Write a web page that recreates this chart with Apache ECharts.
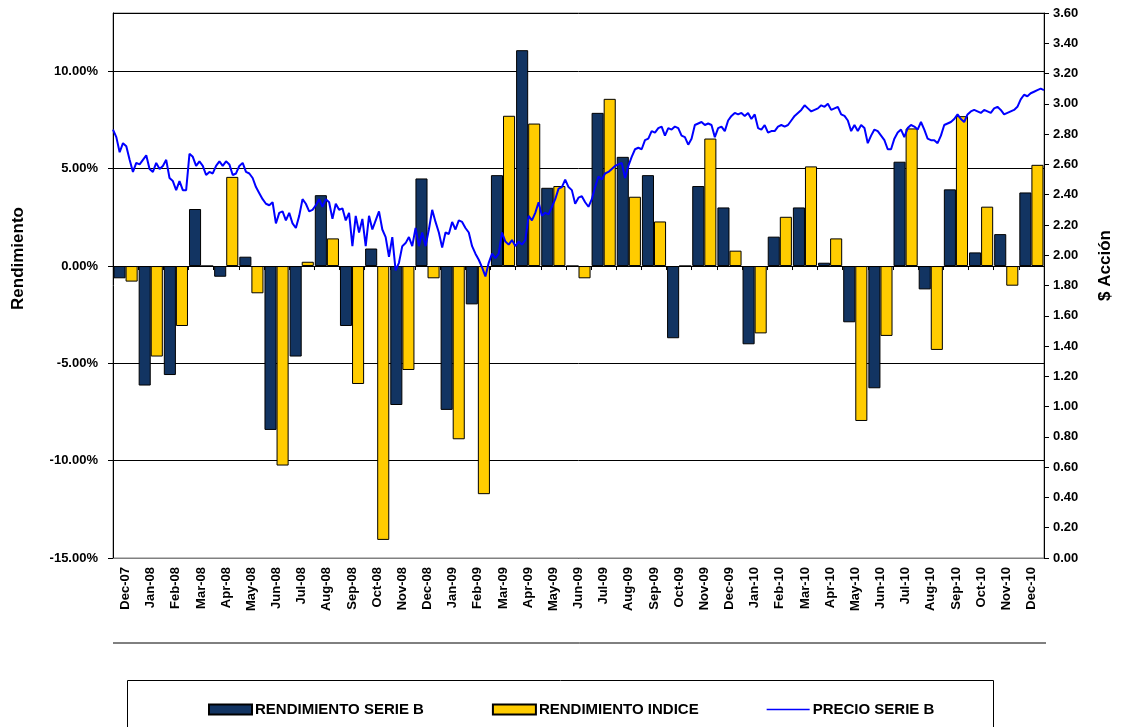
<!DOCTYPE html>
<html>
<head>
<meta charset="utf-8">
<script src="https://cdn.jsdelivr.net/npm/echarts@6/dist/echarts.min.js"></script>
<style>
  html, body { margin: 0; padding: 0; background: #fff; }
  #chart { width: 1123px; height: 727px; }
</style>
</head>
<body>
<div id="chart"></div>
<script>
const months = [
  'Dec-07', 'Jan-08', 'Feb-08', 'Mar-08', 'Apr-08', 'May-08', 'Jun-08', 'Jul-08', 'Aug-08', 'Sep-08',
  'Oct-08', 'Nov-08', 'Dec-08', 'Jan-09', 'Feb-09', 'Mar-09', 'Apr-09', 'May-09', 'Jun-09', 'Jul-09',
  'Aug-09', 'Sep-09', 'Oct-09', 'Nov-09', 'Dec-09', 'Jan-10', 'Feb-10', 'Mar-10', 'Apr-10', 'May-10',
  'Jun-10', 'Jul-10', 'Aug-10', 'Sep-10', 'Oct-10', 'Nov-10', 'Dec-10'
];

// monthly returns, in fractions
const rendSerieB = [
  -0.0063, -0.0614, -0.0560, 0.0293, -0.0055, 0.0048, -0.0842, -0.0465, 0.0364, -0.0308,
  0.0090, -0.0714, 0.0450, -0.0739, -0.0197, 0.0467, 0.1109, 0.0402, 0.0000, 0.0787,
  0.0561, 0.0467, -0.0371, 0.0411, 0.0301, -0.0402, 0.0151, 0.0301, 0.0017, -0.0289,
  -0.0628, 0.0536, -0.0120, 0.0394, 0.0070, 0.0164, 0.0378
];
const rendIndice = [
  -0.0080, -0.0465, -0.0308, 0.0000, 0.0458, -0.0140, -0.1025, 0.0022, 0.0142, -0.0606,
  -0.1407, -0.0534, -0.0063, -0.0890, -0.1172, 0.0772, 0.0732, 0.0411, -0.0063, 0.0859,
  0.0356, 0.0229, 0.0000, 0.0655, 0.0079, -0.0346, 0.0253, 0.0512, 0.0142, -0.0796,
  -0.0359, 0.0707, -0.0431, 0.0770, 0.0305, -0.0101, 0.0520
];

// share price, sampled along the period (Dec-07 .. Dec-10)
const precioSerieB = [
  2.83, 2.78, 2.68, 2.74, 2.72, 2.63, 2.55, 2.61, 2.60, 2.63, 2.66, 2.57, 2.55, 2.61, 2.57, 2.59,
  2.63, 2.51, 2.49, 2.43, 2.49, 2.43, 2.43, 2.67, 2.65, 2.59, 2.62, 2.59, 2.53, 2.55, 2.54, 2.59,
  2.62, 2.59, 2.62, 2.60, 2.53, 2.54, 2.59, 2.61, 2.55, 2.54, 2.51, 2.45, 2.41, 2.37, 2.34, 2.33,
  2.35, 2.21, 2.28, 2.29, 2.23, 2.28, 2.21, 2.18, 2.26, 2.37, 2.34, 2.29, 2.30, 2.33, 2.37, 2.32,
  2.37, 2.35, 2.24, 2.34, 2.30, 2.31, 2.23, 2.28, 2.06, 2.26, 2.15, 2.24, 2.06, 2.26, 2.17, 2.23,
  2.29, 2.17, 2.12, 1.99, 2.12, 1.90, 1.95, 2.06, 2.08, 2.12, 2.06, 2.18, 2.06, 2.15, 2.06,
  2.17, 2.30, 2.22, 2.15, 2.05, 2.15, 2.14, 2.22, 2.17, 2.23, 2.22, 2.18, 2.15, 2.06, 2.01, 1.97,
  1.92, 1.86, 1.95, 2.01, 1.98, 2.01, 2.15, 2.09, 2.07, 2.10, 2.06, 2.09, 2.07, 2.10, 2.26, 2.23,
  2.28, 2.35, 2.26, 2.28, 2.27, 2.32, 2.37, 2.44, 2.45, 2.50, 2.45, 2.43, 2.34, 2.38, 2.39, 2.35,
  2.32, 2.37, 2.45, 2.52, 2.50, 2.54, 2.55, 2.57, 2.59, 2.60, 2.61, 2.51, 2.59, 2.65, 2.70, 2.71,
  2.70, 2.76, 2.77, 2.82, 2.81, 2.84, 2.85, 2.79, 2.84, 2.83, 2.85, 2.84, 2.79, 2.78, 2.73, 2.77,
  2.86, 2.87, 2.88, 2.86,
  2.87, 2.86, 2.78, 2.84, 2.85, 2.82, 2.89, 2.92, 2.94, 2.93, 2.94, 2.92, 2.94, 2.90, 2.93, 2.84,
  2.83, 2.86, 2.81, 2.82, 2.82, 2.85, 2.86, 2.85, 2.86, 2.89, 2.92, 2.94, 2.96, 2.99, 2.97, 2.95,
  2.96, 2.97, 2.99, 2.98, 3.00, 2.96, 2.97, 2.98, 2.93, 2.92, 2.89, 2.82, 2.86, 2.82, 2.86, 2.84,
  2.74, 2.79, 2.83, 2.82, 2.79, 2.76, 2.70, 2.70, 2.77, 2.81, 2.83, 2.78, 2.84, 2.86, 2.85, 2.83,
  2.88, 2.83, 2.77, 2.76, 2.76, 2.74, 2.79, 2.86, 2.87, 2.88, 2.90, 2.93, 2.90, 2.88, 2.93, 2.95,
  2.96, 2.95, 2.94, 2.96, 2.95, 2.94, 2.97, 2.98, 2.96, 2.93, 2.94, 2.95, 2.96, 2.98, 3.03, 3.06,
  3.05, 3.07, 3.08, 3.09, 3.10, 3.09
];

const font = "'Liberation Sans', Arial, sans-serif";

const chart = echarts.init(document.getElementById('chart'), null, { renderer: 'canvas' });

chart.setOption({
  animation: false,
  backgroundColor: '#ffffff',
  textStyle: { fontFamily: font },
  grid: {
    left: 113, right: 79, top: 13, bottom: 169,
    containLabel: false, outerBoundsMode: 'none',
    show: true, borderColor: '#808080', borderWidth: 1
  },
  legend: {
    left: 203,
    top: 697,
    itemWidth: 43,
    itemHeight: 10,
    itemGap: 68,
    textStyle: { fontFamily: font, fontWeight: 'bold', fontSize: 15, color: '#000', padding: [0, 0, 0, -2] },
    data: [
      { name: 'RENDIMIENTO SERIE B', icon: 'rect' },
      { name: 'RENDIMIENTO INDICE', icon: 'rect' },
      { name: 'PRECIO SERIE B', icon: 'path://M0,0 L50,0 L50,2 L0,2 Z' }
    ]
  },
  xAxis: [
    {
      type: 'category',
      data: months,
      position: 'bottom',
      axisLine: { onZero: false, lineStyle: { color: '#808080', width: 1 } },
      axisTick: { show: false },
      axisLabel: {
        interval: 0, rotate: 90, fontFamily: font, fontWeight: 'bold', fontSize: 13,
        color: '#000', margin: 9
      }
    },
    {
      type: 'category',
      data: precioSerieB.map((v, i) => i),
      boundaryGap: false,
      position: 'top',
      show: false
    },
    {
      type: 'category',
      data: months,
      position: 'bottom',
      axisLine: { onZero: true, onZeroAxisIndex: 0, lineStyle: { color: '#000', width: 1 } },
      axisTick: { show: true, length: 4, interval: 0, lineStyle: { color: '#000' } },
      axisLabel: { show: false }
    }
  ],
  yAxis: [
    {
      type: 'value',
      min: -0.15,
      max: 0.13,
      interval: 0.05,
      name: 'Rendimiento',
      nameLocation: 'middle',
      nameRotate: 90,
      nameGap: 86,
      nameTextStyle: { fontFamily: font, fontWeight: 'bold', fontSize: 17, color: '#000', padding: [0, 0, 0, 54] },
      axisLine: { show: true, lineStyle: { color: '#000', width: 1 } },
      axisTick: { show: true, length: 5, lineStyle: { color: '#000' } },
      axisLabel: {
        fontFamily: font, fontWeight: 'bold', fontSize: 13, color: '#000', margin: 15,
        showMaxLabel: false,
        formatter: v => (v * 100).toFixed(2) + '%'
      },
      splitLine: { show: true, lineStyle: { color: '#000', width: 1 } }
    },
    {
      type: 'value',
      min: 0,
      max: 3.6,
      interval: 0.2,
      name: '$ Acción',
      nameLocation: 'middle',
      nameRotate: 90,
      nameGap: 53,
      nameTextStyle: { fontFamily: font, fontWeight: 'bold', fontSize: 17, color: '#000', padding: [0, 0, 0, 40] },
      axisLine: { show: true, lineStyle: { color: '#000', width: 1 } },
      axisTick: { show: true, length: 5, lineStyle: { color: '#000' } },
      axisLabel: {
        fontFamily: font, fontWeight: 'bold', fontSize: 13, color: '#000', margin: 9,
        formatter: v => v.toFixed(2)
      },
      splitLine: { show: false }
    }
  ],
  series: [
    {
      name: 'RENDIMIENTO SERIE B',
      type: 'bar',
      xAxisIndex: 0,
      yAxisIndex: 0,
      data: rendSerieB,
      barGap: '0%',
      barCategoryGap: '4%',
      itemStyle: { color: '#123462', borderColor: '#000', borderWidth: 1 }
    },
    {
      name: 'RENDIMIENTO INDICE',
      type: 'bar',
      xAxisIndex: 0,
      yAxisIndex: 0,
      data: rendIndice,
      itemStyle: { color: '#FFCC00', borderColor: '#000', borderWidth: 1 }
    },
    {
      name: 'PRECIO SERIE B',
      type: 'line',
      xAxisIndex: 1,
      yAxisIndex: 1,
      data: precioSerieB,
      showSymbol: false,
      symbol: 'none',
      lineStyle: { color: '#0000FF', width: 2 },
      itemStyle: { color: '#0000FF' },
      z: 5
    }
  ],
  graphic: [
    {
      type: 'line',
      shape: { x1: 113, y1: 643, x2: 1046, y2: 643 },
      style: { stroke: '#000', lineWidth: 1 }
    },
    {
      type: 'rect',
      shape: { x: 127.5, y: 680.5, width: 866, height: 60 },
      style: { fill: 'none', stroke: '#000', lineWidth: 1 },
      z: -1
    }
  ]
});
</script>
</body>
</html>
